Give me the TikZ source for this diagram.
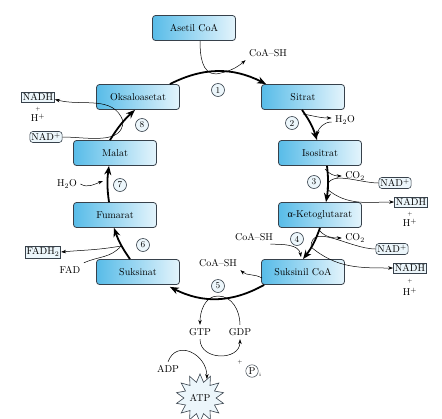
\documentclass[tikz,border=0pt]{standalone}
\usepackage{fontspec}
\newfontfamily\greekfont{Liberation Serif}
\usetikzlibrary{arrows.meta,shapes.geometric}
\definecolor{boxdark}{RGB}{88,188,232}
\definecolor{boxlight}{RGB}{228,244,252}
\definecolor{boxline}{RGB}{55,65,75}
\definecolor{smallfill}{RGB}{236,246,251}
\begin{document}
\begin{tikzpicture}[x=1pt,y=1pt,
    metab/.style={draw=boxline,line width=0.8pt,rounded corners=3pt,left color=boxdark,right color=boxlight,minimum width=83pt,minimum height=25pt},
    cofac/.style={draw=boxline,line width=0.6pt,fill=smallfill,inner sep=1.5pt},
    cofacr/.style={cofac,rounded corners=3pt},
    stepnum/.style={circle,draw=boxline,line width=0.6pt,fill=smallfill,inner sep=0pt,minimum size=13pt,font=\small},
    plussign/.style={font=\tiny,inner sep=0pt},
    cyc/.style={line width=1.8pt,-{Stealth[length=9pt,width=7pt]}},
    side/.style={line width=0.5pt,-{Stealth[length=5pt,width=3.5pt]}},
    sideline/.style={line width=0.5pt}]
    \useasboundingbox (0,0) rectangle (442,-418);

    \node[metab] (acoa) at (194,-28) {Asetil CoA};
    \node[metab] (oks) at (138,-97) {Oksaloasetat};
    \node[metab] (sit) at (303,-97) {Sitrat};
    \node[metab] (mal) at (115,-153) {Malat};
    \node[metab] (iso) at (320,-153) {Isositrat};
    \node[metab] (fum) at (115,-215) {Fumarat};
    \node[metab] (akg) at (320,-215) {{\greekfont α}-Ketoglutarat};
    \node[metab] (sukn) at (138,-272) {Suksinat};
    \node[metab] (skc) at (303,-272) {Suksinil CoA};

    \node[stepnum] (n1) at (218,-90) {1};
    \node[stepnum] (n2) at (292,-123) {2};
    \node[stepnum] (n3) at (314,-182) {3};
    \node[stepnum] (n4) at (297,-239) {4};
    \node[stepnum] (n5) at (218,-286) {5};
    \node[stepnum] (n6) at (143,-245) {6};
    \node[stepnum] (n7) at (120,-185) {7};
    \node[stepnum] (n8) at (142,-125) {8};

    \node (coa1) at (268,-53) {CoA--SH};
    \node (h2o2) at (345,-120) {H\textsubscript{2}O};
    \node (co2a) at (355,-176) {CO\textsubscript{2}};
    \node[cofacr] (nadp3) at (395,-183) {NAD\textsuperscript{+}};
    \node[cofac] (nadh3) at (411,-202) {NADH};
    \node[plussign] (plus3) at (410,-214) {+};
    \node (hp3) at (410,-223) {H\textsuperscript{+}};
    \node (co2b) at (355,-238) {CO\textsubscript{2}};
    \node[cofacr] (nadp4) at (392,-249) {NAD\textsuperscript{+}};
    \node[cofac] (nadh4) at (410,-268) {NADH};
    \node[plussign] (plus4) at (410,-281) {+};
    \node (hp4) at (410,-292) {H\textsuperscript{+}};
    \node (coa4) at (254,-237) {CoA--SH};
    \node (coa5) at (218,-263) {CoA--SH};
    \node (gtp) at (200,-332) {GTP};
    \node (gdp) at (240,-332) {GDP};
    \node (adp) at (168,-369) {ADP};
    \node[plussign] (plusp) at (240,-362) {+};
    \node[circle,draw=boxline,line width=0.5pt,inner sep=1pt] (pi) at (252,-371) {P};
    \node[font=\tiny,anchor=west,inner sep=0.5pt] (pii) at ([yshift=-4]pi.east) {i};
    \node[star,star points=14,star point ratio=1.5,draw=boxline,line width=0.6pt,fill=smallfill,inner sep=1pt,minimum size=44pt] (atp) at (200,-398) {ATP};
    \node[cofac] (nadh8) at (38,-97) {NADH};
    \node[plussign] (plus8) at (38,-109) {+};
    \node (hp8) at (38,-118) {H\textsuperscript{+}};
    \node[cofacr] (nadp8) at (46,-137) {NAD\textsuperscript{+}};
    \node (h2o7) at (67,-184) {H\textsubscript{2}O};
    \node[cofac] (fadh) at (43,-252) {FADH\textsubscript{2}};
    \node (fad) at (70,-270) {FAD};

    \coordinate (j1) at (216,-74);
    \coordinate (j2a) at (303,-114);
    \coordinate (j2b) at (317,-136);
    \coordinate (j3a) at (325,-169);
    \coordinate (j3b) at (327,-189);
    \coordinate (j4a) at (319,-230);
    \coordinate (j4b) at (301,-257);
    \coordinate (j4c) at (311,-247);
    \coordinate (j5a) at (262,-278);
    \coordinate (j5b) at (218,-296);
    \coordinate (j6) at (121,-246);
    \coordinate (j7) at (103,-181);
    \coordinate (j8) at (123,-121);

    \draw[cyc] ([xshift=-10]oks.north east) to[bend left=27] ([xshift=5]sit.north west);
    \draw[cyc] ([xshift=-1]sit.south) to[bend left=9] ([xshift=-3]iso.north);
    \draw[cyc] ([xshift=7]iso.south) to[bend left=8] ([xshift=6]akg.north);
    \draw[cyc] (akg.south) to[bend left=9] (skc.north);
    \draw[cyc] ([xshift=3]skc.south west) to[bend left=28] ([xshift=-10,yshift=-2]sukn.south east);
    \draw[cyc] ([xshift=-8]sukn.north) to[bend left=8] ([xshift=-1]fum.south);
    \draw[cyc] ([xshift=-6]fum.north) to[bend left=8] ([xshift=-6]mal.south);
    \draw[cyc] ([xshift=-5]mal.north) to[bend left=8] ([xshift=-3]oks.south);

    \draw[sideline] ([xshift=6]acoa.south) to[out=-90,in=180] (j1);
    \draw[side] (j1) to[out=10,in=220] (coa1.south west);
    \draw[side] (j2a) to[out=-10,in=180] ([yshift=2]h2o2.west);
    \draw[side] ([yshift=-2]h2o2.west) to[out=180,in=80] (j2b);
    \draw[side] (j3a) to[out=-50,in=180] (co2a.west);
    \draw[sideline] (nadp3.west) to[out=180,in=90] (j3b);
    \draw[side] (j3b) to[out=-40,in=180] (nadh3.west);
    \draw[side] (j4a) to[out=-50,in=180] (co2b.west);
    \draw[side] ([xshift=-6]coa4.south east) to[out=0,in=100] (j4b);
    \draw[sideline] (nadp4.west) to[out=180,in=90] (j4c);
    \draw[side] (j4c) to[out=-40,in=180] (nadh4.west);
    \draw[side] (j5a) to[out=150,in=-40] (coa5.south east);
    \draw[sideline] (gdp.north) to[out=90,in=0] (j5b);
    \draw[side] (j5b) to[out=180,in=90] (gtp.north);
    \draw[side] (gtp.south) to[out=-90,in=-90,looseness=1.4] (gdp.south);
    \draw[side] (adp.north) to[out=70,in=90,looseness=1.5] (atp.70);
    \draw[side] (j6) to[out=190,in=5] (fadh.east);
    \draw[sideline] (fad.north east) to[out=25,in=-130] (j6);
    \draw[side] (h2o7.east) to[out=-30,in=200] (j7);
    \draw[sideline] (nadp8.east) to[out=0,in=-90] (j8);
    \draw[side] (j8) to[out=110,in=-15] ([yshift=3]nadh8.south east);
\end{tikzpicture}
\end{document}
